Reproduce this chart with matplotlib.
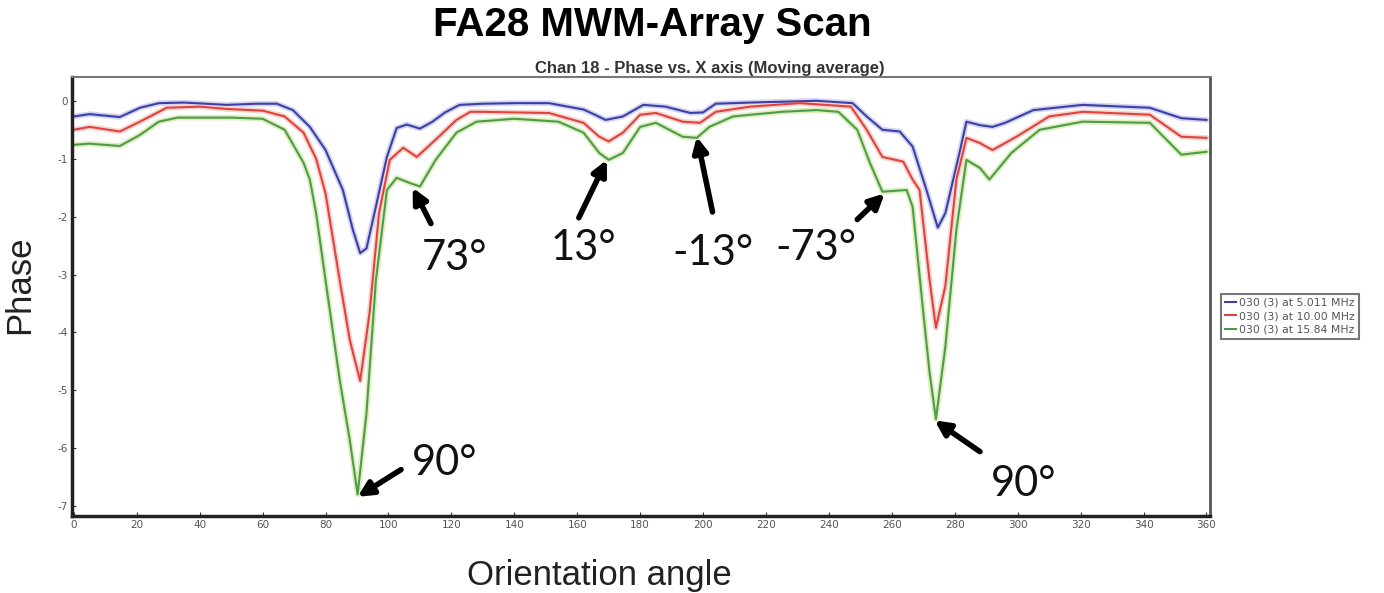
import matplotlib
matplotlib.use("Agg")
import matplotlib.pyplot as plt

# moving-average phase
blue_x = [0, 5, 14.6, 21, 27, 35, 48.6, 58, 64.5, 69.6, 75, 80, 85.5, 88.7, 91,
          93, 96, 99.5, 102.6, 105.8, 110, 114, 118, 122.6, 130, 140, 151, 162,
          166, 169, 174.5, 181, 188, 196, 200, 204, 215, 236, 247.5, 252, 257,
          262.5, 266.6, 271, 274.6, 277, 281.5, 283.7, 288, 292, 296, 305,
          320.6, 342, 352, 360]
blue_y = [-0.27, -0.23, -0.28, -0.12, -0.04, -0.03, -0.07, -0.05, -0.05, -0.16,
          -0.45, -0.85, -1.54, -2.23, -2.63, -2.55, -1.83, -0.97, -0.47, -0.41,
          -0.48, -0.36, -0.2, -0.07, -0.05, -0.04, -0.04, -0.15, -0.25, -0.33,
          -0.27, -0.07, -0.1, -0.21, -0.2, -0.05, -0.03, 0.0, -0.04, -0.27,
          -0.5, -0.53, -0.79, -1.54, -2.19, -1.94, -0.9, -0.36, -0.42, -0.45,
          -0.38, -0.16, -0.07, -0.12, -0.3, -0.33]

red_x = [0, 5, 14.6, 21, 29.5, 40, 48.6, 60, 67, 73, 77, 80, 84.5, 87.7, 91,
         94, 97, 100.4, 104.7, 109, 115, 121.6, 126, 130, 140, 151, 162, 167,
         170, 174.5, 180, 185, 193.5, 199, 204, 215, 230.7, 247, 252, 257,
         263.6, 266.6, 268.8, 272, 274, 277, 280.5, 283.7, 288, 292, 299.6,
         310, 320.6, 342, 352, 360]
red_y = [-0.5, -0.45, -0.53, -0.36, -0.12, -0.1, -0.14, -0.17, -0.27, -0.55,
         -1.0, -1.6, -3.1, -4.13, -4.84, -3.66, -1.94, -1.02, -0.81, -0.97,
         -0.67, -0.33, -0.19, -0.19, -0.2, -0.21, -0.38, -0.62, -0.7, -0.55,
         -0.24, -0.21, -0.36, -0.38, -0.19, -0.1, -0.04, -0.1, -0.5, -0.97,
         -1.05, -1.36, -1.54, -3.1, -3.92, -3.2, -1.36, -0.64, -0.73, -0.85,
         -0.62, -0.27, -0.19, -0.24, -0.62, -0.64]

green_x = [0, 5, 14.6, 21, 27, 33, 40, 50, 60, 67, 73, 75, 77, 80, 84.5, 87.7,
           90.2, 93, 96, 99.5, 102.6, 106.8, 110, 115, 121.6, 128, 140, 154,
           162, 167, 170, 174.5, 180, 185, 193.5, 198, 202, 209.5, 225, 236,
           243, 249, 253, 257, 264.7, 266.6, 270, 272, 274, 277, 280.5, 283.7,
           288, 291, 298, 307, 320.6, 342, 352, 360]
green_y = [-0.76, -0.74, -0.78, -0.59, -0.36, -0.29, -0.29, -0.29, -0.31, -0.5,
           -1.07, -1.36, -1.94, -3.1, -4.82, -5.86, -6.8, -5.4, -3.1, -1.54,
           -1.33, -1.42, -1.48, -1.02, -0.55, -0.36, -0.31, -0.36, -0.55, -0.9,
           -1.02, -0.9, -0.45, -0.38, -0.62, -0.64, -0.45, -0.27, -0.19, -0.16,
           -0.19, -0.5, -1.07, -1.57, -1.54, -1.83, -3.66, -4.7, -5.5, -4.25,
           -2.23, -1.02, -1.16, -1.36, -0.9, -0.5, -0.36, -0.38, -0.93, -0.88]

labels = ["030 (3) at 5.011 MHz", "030 (3) at 10.00 MHz", "030 (3) at 15.84 MHz"]

# callouts: text, arrow tip (x, y), arrow tail (x, y), text position (x, y)
callouts = [
    ["73\u00b0", (107.7, -1.50), (113.5, -2.12), (121, -2.72)],
    ["13\u00b0", (169.4, -1.02), (160.5, -2.02), (162, -2.55)],
    ["-13\u00b0", (198.0, -0.62), (203.0, -1.92), (203, -2.62)],
    ["-73\u00b0", (257.7, -1.60), (249.0, -2.05), (236, -2.55)],
    ["90\u00b0", (90.2, -6.84), (104.0, -6.37), (118, -6.25)],
    ["90\u00b0", (273.6, -5.52), (288.0, -6.06), (302, -6.62)],
]


def main():
    fig = plt.figure(figsize=(13.84, 5.93), dpi=100)
    ax = fig.add_axes([0.052, 0.130, 0.822, 0.740])

    series = [
        [blue_x, blue_y, "#3b3fa6", "#d3d5f0", labels[0]],
        [red_x, red_y, "#e0433f", "#f8d6d0", labels[1]],
        [green_x, green_y, "#4f9a4c", "#dcf0bc", labels[2]],
    ]
    for sx, sy, col, halo, lab in series:
        ax.plot(sx, sy, color=halo, lw=4, solid_capstyle="round", zorder=1)
    for sx, sy, col, halo, lab in series:
        ax.plot(sx, sy, color=col, lw=1.5, label=lab, zorder=2)

    ax.set_xlim(-0.6, 361)
    ax.set_ylim(-7.17, 0.41)
    ax.set_xticks(range(0, 361, 20))
    ax.set_yticks(range(0, -8, -1))
    ax.set_yticklabels([str(v) for v in range(0, -8, -1)])
    ax.tick_params(axis="both", labelsize=7.5, labelcolor="#555555",
                   direction="in", length=3, color="#333333", pad=3)

    for side in ["left", "bottom"]:
        ax.spines[side].set_linewidth(2.5)
        ax.spines[side].set_color("#222222")
    ax.spines["top"].set_color("#777777")
    ax.spines["top"].set_linewidth(1.5)
    ax.spines["right"].set_color("#555555")
    ax.spines["right"].set_linewidth(2)

    for txt, tip, tail, pos in callouts:
        ax.annotate("", xy=tip, xytext=tail,
                    arrowprops=dict(arrowstyle="-|>", color="black", lw=4,
                                    mutation_scale=22, shrinkA=0, shrinkB=0),
                    zorder=5)
        ax.text(pos[0], pos[1], txt, fontsize=30, family=["Lato", "DejaVu Sans"],
                color="#111111", ha="center", va="center", zorder=6)

    fig.text(0.471, 0.957, "FA28 MWM-Array Scan", fontsize=29,
             fontweight="bold", family=["Liberation Sans Narrow", "Liberation Sans"],
             ha="center", va="center")
    fig.text(0.513, 0.884, "Chan 18 - Phase vs. X axis (Moving average)",
             fontsize=12, fontweight="bold", color="#333333",
             family=["Liberation Sans Narrow", "Liberation Sans"],
             ha="center", va="center")
    fig.text(0.014, 0.52, "Phase", fontsize=25, rotation=90, color="#222222",
             family="Liberation Sans", ha="center", va="center")
    fig.text(0.433, 0.03, "Orientation angle", fontsize=25, color="#222222",
             family="Liberation Sans", ha="center", va="center")

    leg = ax.legend(loc="upper left", bbox_to_anchor=(0.878, 0.514),
                    bbox_transform=fig.transFigure, fontsize=7.8,
                    handlelength=1.0, handletextpad=0.3, borderpad=0.4,
                    labelspacing=0.3, frameon=True, fancybox=False)
    leg.get_frame().set_edgecolor("#555555")
    leg.get_frame().set_linewidth(1.5)
    for t in leg.get_texts():
        t.set_color("#555555")

    fig.savefig("out.png", dpi=100)


if __name__ == "__main__":
    main()
